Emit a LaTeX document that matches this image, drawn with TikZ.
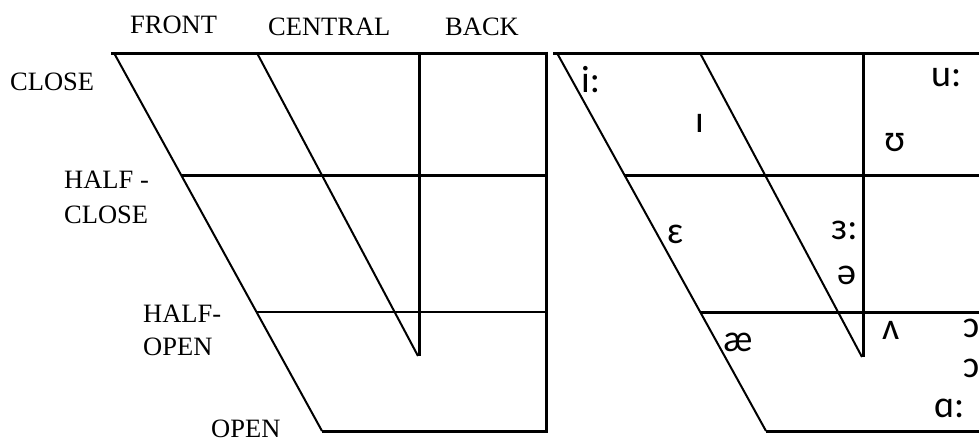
\documentclass[tikz,border=0pt]{standalone}
\usepackage{fontspec}
\setmainfont{Liberation Serif}
\newfontfamily\ipafont{Carlito}
\begin{document}
\begin{tikzpicture}[x=1pt,y=-1pt,
  lab/.style={font=\fontsize{26.5}{30}\selectfont, inner sep=0pt, anchor=base west},
  ipa/.style={font=\ipafont\fontsize{38}{42}\selectfont, inner sep=0pt, anchor=base west},
  thk/.style={line width=3pt},
  thn/.style={line width=2pt}]
\useasboundingbox (0,0) rectangle (979,442);
\clip (0,0) rectangle (979,442);
\fill[white] (0,0) rectangle (979,442);
% left chart
\draw[thk] (111,53) -- (546,53);
\draw[thn] (114,53) -- (322,431);
\draw[thn] (257,53) -- (418,356);
\draw[thk] (419,53) -- (419,356);
\draw[thk] (546,51.5) -- (546,432.5);
\draw[thk] (182,175) -- (546,175);
\draw[thn] (257,312) -- (546,312);
\draw[thk] (322,431) -- (546,431);
% right chart
\draw[thk] (553,53) -- (990,53);
\draw[thn] (557,53) -- (766,431);
\draw[thn] (700,53) -- (862,357);
\draw[thk] (863,53) -- (863,357);
\draw[thk] (624,175) -- (990,175);
\draw[thk] (700,312) -- (990,312);
\draw[thk] (766,431) -- (990,431);
% labels
\node[lab] (front) at (130,33) {FRONT};
\node[lab] (central) at (268,35) {CENTRAL};
\node[lab] (back) at (445,35) {BACK};
\node[lab] (close) at (10,90) {CLOSE};
\node[lab] (hc1) at (64,188) {HALF -};
\node[lab] (hc2) at (64,223) {CLOSE};
\node[lab] (ho1) at (143,322) {HALF-};
\node[lab] (ho2) at (143,355) {OPEN};
\node[lab] (open) at (211,437.5) {OPEN};
% vowels
\node[ipa] (iy) at (581,92) {i:};
\node[ipa] (ih) at (695,132) {ɪ};
\node[ipa] (uh) at (884,151) {ʊ};
\node[ipa] (uw) at (931,86) {u:};
\node[ipa] (eh) at (667,243) {ɛ};
\node[ipa] (er) at (831,239) {ɜ:};
\node[ipa] (ax) at (837,284) {ə};
\node[ipa] (ah) at (882,339) {ʌ};
\node[ipa] (ae) at (723,351) {æ};
\node[ipa] (ao) at (963,337) {ɔ:};
\node[ipa] (oh) at (963,377) {ɔ};
\node[ipa] (aa) at (934,417) {ɑ:};
\end{tikzpicture}
\end{document}
